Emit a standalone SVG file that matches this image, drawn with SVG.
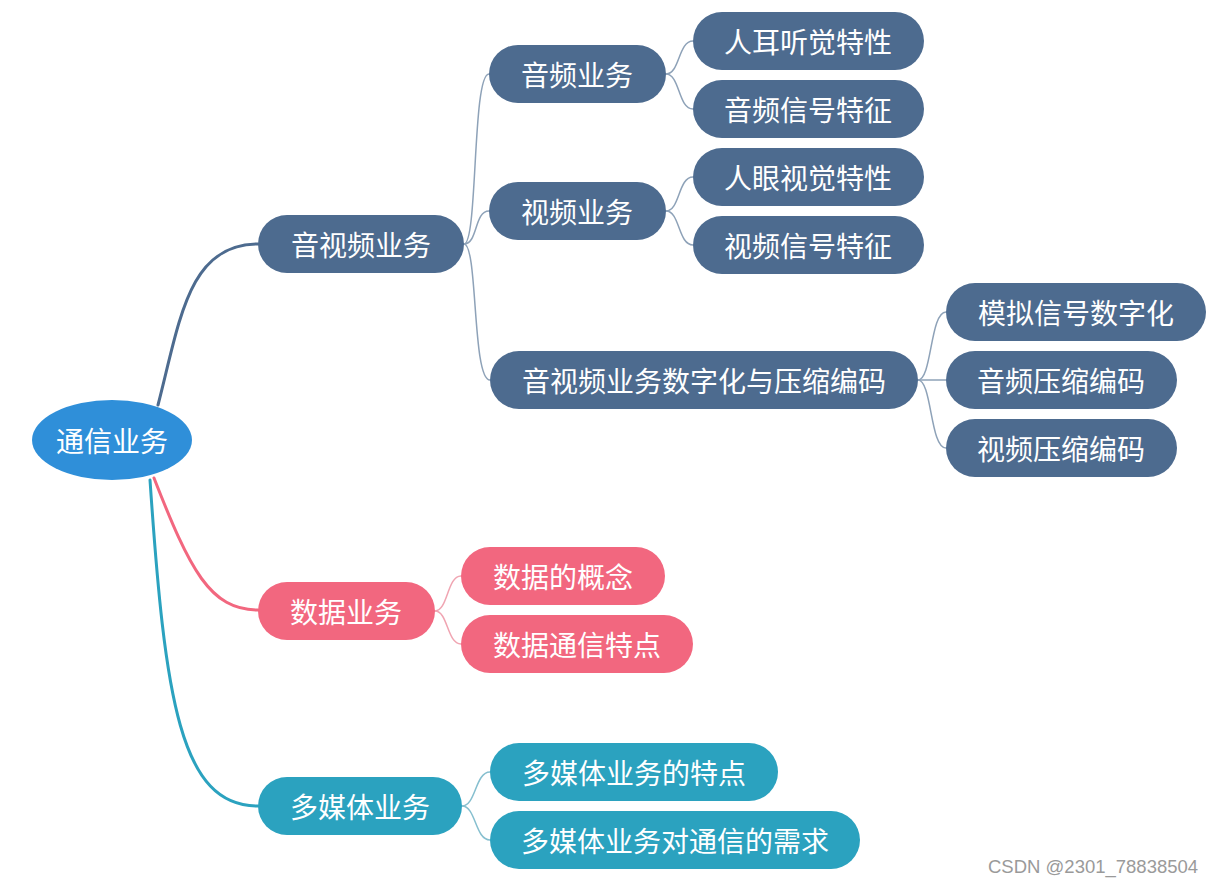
<svg xmlns="http://www.w3.org/2000/svg" width="1216" height="878" viewBox="0 0 1216 878">
<style>
text{font-family:"Noto Sans CJK SC","Noto Sans",sans-serif;font-size:28px;fill:#fff;text-anchor:middle;dominant-baseline:central}
.s{fill:#4d6b8f}.p{fill:#f2677f}.t{fill:#2ba2bf}
.c{fill:none;stroke-linecap:round}
.m1{stroke:#4d6b8f;stroke-width:3}.m2{stroke:#f2677f;stroke-width:3}.m3{stroke:#2ba2bf;stroke-width:3}
.l1{stroke:#8ea2b8;stroke-width:1.5}.l2{stroke:#f0a5b2;stroke-width:1.5}.l3{stroke:#86bfcf;stroke-width:1.5}
.wm{font-family:"Liberation Sans",Arial,sans-serif;font-size:18.5px;fill:#9a9a9a;text-anchor:start}
</style>
<rect width="1216" height="878" fill="#fff"/>
<g id="connectors">
<path class="c m1" d="M158,405 C180,320 188,244 258,244"/>
<path class="c m2" d="M154,478 C190,570 210,610 258,610"/>
<path class="c m3" d="M150,480 C165,700 180,806 258,806"/>
<path class="c l1" d="M464,244 C478,244 472,74 489,74"/>
<path class="c l1" d="M464,244 C478,244 474,211 489,211"/>
<path class="c l1" d="M464,244 C478,244 472,380 490,380"/>
<path class="c l1" d="M666,74 C680,74 678,41 693,41"/>
<path class="c l1" d="M666,74 C680,74 678,109 693,109"/>
<path class="c l1" d="M666,211 C680,211 678,177 693,177"/>
<path class="c l1" d="M666,211 C680,211 678,245 693,245"/>
<path class="c l1" d="M918,380 C932,380 930,312 946,312"/>
<path class="c l1" d="M918,380 L946,380"/>
<path class="c l1" d="M918,380 C932,380 930,448 946,448"/>
<path class="c l2" d="M435,611 C448,611 447,576 461,576"/>
<path class="c l2" d="M435,611 C448,611 447,644 461,644"/>
<path class="c l3" d="M462,806 C476,806 475,772 490,772"/>
<path class="c l3" d="M462,806 C476,806 475,840 490,840"/>
</g>
<g id="root"><ellipse cx="112" cy="440" rx="80" ry="40" fill="#2f8fd9"/><text x="112" y="440">通信业务</text></g>
<g id="n-av"><rect class="s" x="258" y="215" width="206" height="58" rx="29"/><text x="361" y="244">音视频业务</text></g>
<g id="n-audio"><rect class="s" x="489" y="45" width="177" height="58" rx="29"/><text x="577" y="74">音频业务</text></g>
<g id="n-video"><rect class="s" x="489" y="182" width="177" height="58" rx="29"/><text x="577" y="211">视频业务</text></g>
<g id="n-ear"><rect class="s" x="693" y="12" width="231" height="58" rx="29"/><text x="808" y="41">人耳听觉特性</text></g>
<g id="n-asig"><rect class="s" x="693" y="80" width="231" height="58" rx="29"/><text x="808" y="109">音频信号特征</text></g>
<g id="n-eye"><rect class="s" x="693" y="148" width="231" height="58" rx="29"/><text x="808" y="177">人眼视觉特性</text></g>
<g id="n-vsig"><rect class="s" x="693" y="216" width="231" height="58" rx="29"/><text x="808" y="245">视频信号特征</text></g>
<g id="n-digi"><rect class="s" x="490" y="351" width="428" height="58" rx="29"/><text x="704" y="380">音视频业务数字化与压缩编码</text></g>
<g id="n-a2d"><rect class="s" x="946" y="283" width="260" height="58" rx="29"/><text x="1076" y="312">模拟信号数字化</text></g>
<g id="n-acomp"><rect class="s" x="946" y="351" width="231" height="58" rx="29"/><text x="1061" y="380">音频压缩编码</text></g>
<g id="n-vcomp"><rect class="s" x="946" y="419" width="231" height="58" rx="29"/><text x="1061" y="448">视频压缩编码</text></g>
<g id="n-data"><rect class="p" x="258" y="582" width="177" height="58" rx="29"/><text x="346" y="611">数据业务</text></g>
<g id="n-dconcept"><rect class="p" x="461" y="547" width="204" height="58" rx="29"/><text x="563" y="576">数据的概念</text></g>
<g id="n-dcomm"><rect class="p" x="461" y="615" width="232" height="58" rx="29"/><text x="577" y="644">数据通信特点</text></g>
<g id="n-mm"><rect class="t" x="258" y="777" width="204" height="58" rx="29"/><text x="360" y="806">多媒体业务</text></g>
<g id="n-mmfeat"><rect class="t" x="490" y="743" width="288" height="58" rx="29"/><text x="634" y="772">多媒体业务的特点</text></g>
<g id="n-mmreq"><rect class="t" x="490" y="811" width="370" height="58" rx="29"/><text x="675" y="840">多媒体业务对通信的需求</text></g>
<text class="wm" x="988" y="866">CSDN @2301_78838504</text>
</svg>
